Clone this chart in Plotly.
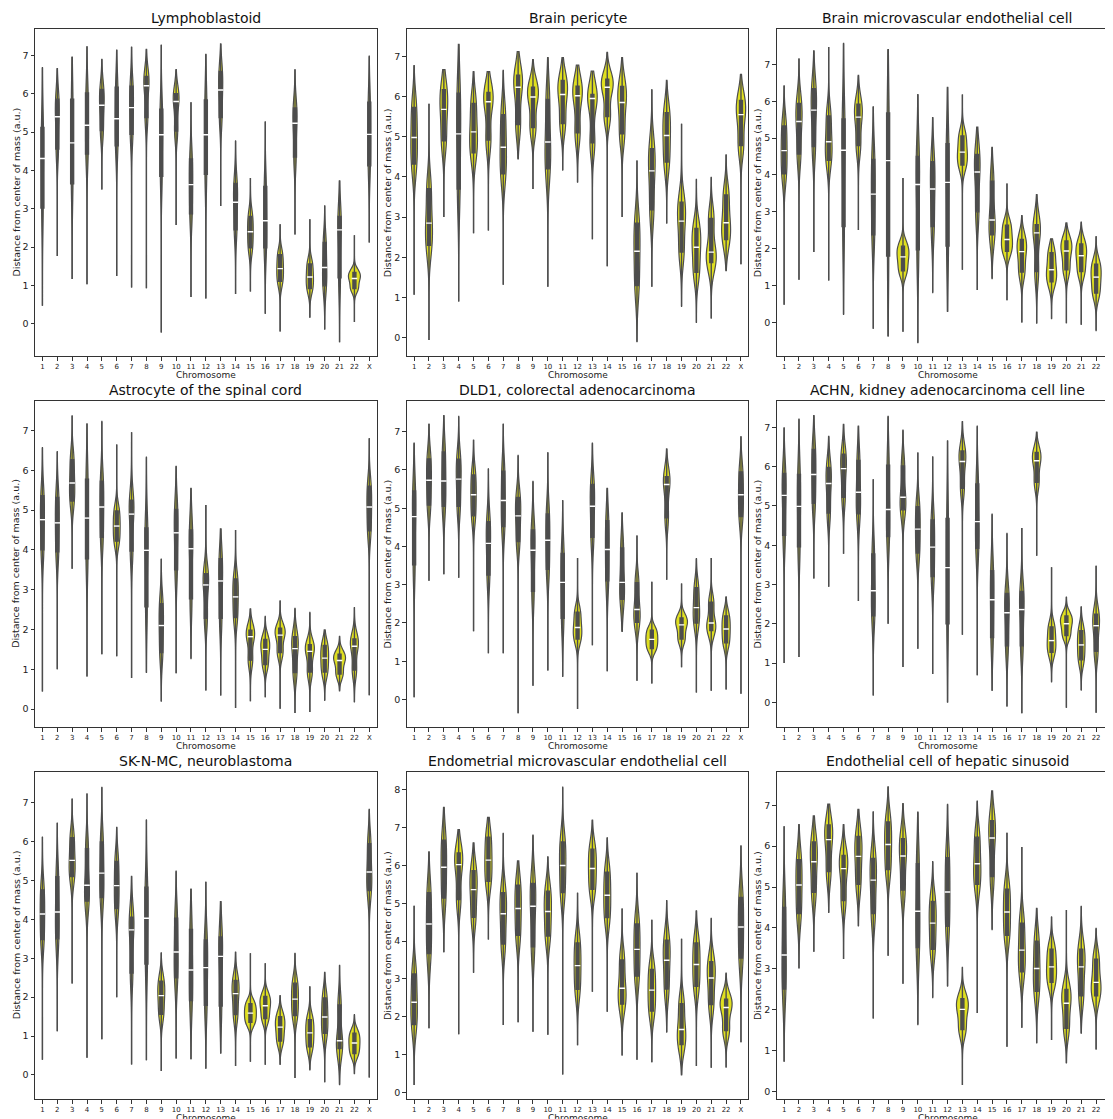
import numpy as np
import plotly.graph_objects as go

CHROMS = [str(i) for i in range(1, 23)] + ["X"]

TITLES = [
    "Lymphoblastoid", "Brain pericyte", "Brain microvascular endothelial cell",
    "Astrocyte of the spinal cord", "DLD1, colorectal adenocarcinoma", "ACHN, kidney adenocarcinoma cell line",
    "SK-N-MC, neuroblastoma", "Endometrial microvascular endothelial cell", "Endothelial cell of hepatic sinusoid",
]

# per chromosome: (lower whisker, q1, median, q3, upper whisker)
LYMPHOBLASTOID = [
    (0.47, 3.02, 4.31, 5.12, 6.68), (1.77, 4.56, 5.40, 5.86, 6.66), (1.17, 3.65, 4.72, 5.86, 6.96),
    (1.03, 4.43, 5.18, 6.02, 7.23), (3.50, 5.04, 5.70, 6.11, 6.90), (1.25, 4.64, 5.35, 6.17, 7.14),
    (0.95, 4.94, 5.64, 6.20, 7.22), (0.93, 5.38, 6.21, 6.45, 7.16), (-0.23, 3.85, 4.93, 5.60, 7.27),
    (2.58, 5.03, 5.80, 6.00, 6.63), (0.70, 2.87, 3.63, 4.30, 5.77), (0.66, 3.90, 4.93, 5.84, 7.03),
    (3.07, 5.38, 6.10, 6.58, 7.30), (0.78, 2.45, 3.17, 3.66, 4.77), (0.84, 1.98, 2.40, 2.80, 3.80),
    (0.27, 1.98, 2.69, 3.58, 5.27), (-0.20, 1.11, 1.44, 1.80, 2.59), (2.33, 4.35, 5.23, 5.63, 6.63),
    (0.17, 0.92, 1.22, 1.56, 2.73), (-0.14, 0.99, 1.47, 2.12, 3.08), (-0.48, 1.20, 2.45, 2.80, 3.73),
    (0.05, 0.92, 1.18, 1.34, 2.31), (2.12, 4.12, 4.94, 5.78, 6.98),
]
BRAIN_PERICYTE = [
    (1.07, 4.32, 4.98, 5.73, 6.77), (-0.06, 2.30, 2.85, 3.71, 5.82), (3.00, 4.90, 5.68, 6.17, 6.67),
    (0.90, 3.70, 5.07, 6.08, 7.30), (2.60, 4.60, 5.12, 5.83, 6.62), (2.67, 4.92, 5.87, 6.10, 6.62),
    (1.32, 4.08, 4.74, 5.55, 6.65), (4.45, 5.30, 6.23, 6.53, 7.12), (3.70, 5.23, 5.99, 6.23, 6.92),
    (1.27, 4.20, 4.87, 5.93, 6.97), (4.17, 5.33, 6.05, 6.40, 6.97), (3.87, 5.10, 6.02, 6.26, 6.78),
    (2.45, 4.85, 5.95, 6.05, 6.63), (1.78, 5.50, 6.23, 6.43, 7.10), (3.00, 5.07, 5.85, 6.25, 6.97),
    (-0.10, 1.30, 2.15, 2.85, 4.40), (1.27, 3.18, 4.15, 4.70, 6.17), (2.84, 4.37, 5.03, 5.60, 6.40),
    (0.78, 2.13, 2.90, 3.37, 5.32), (0.38, 1.63, 2.25, 2.72, 3.94), (0.48, 1.87, 2.13, 2.97, 3.99),
    (1.67, 2.44, 2.86, 3.55, 4.55), (1.83, 4.78, 5.55, 5.90, 6.55),
]
BRAIN_MICROVASCULAR = [
    (0.48, 4.03, 4.66, 5.33, 6.42), (1.16, 4.57, 5.45, 5.94, 7.15), (1.91, 4.77, 5.76, 6.34, 7.37),
    (1.14, 4.40, 4.90, 5.60, 7.47), (0.22, 2.60, 4.67, 5.52, 7.57), (2.51, 4.80, 5.57, 5.92, 6.70),
    (-0.17, 2.38, 3.48, 4.42, 5.85), (-0.37, 1.80, 4.39, 5.68, 7.40), (-0.25, 1.40, 1.78, 2.07, 3.92),
    (-0.55, 1.97, 3.74, 4.50, 6.18), (0.81, 2.60, 3.62, 4.36, 5.56), (0.30, 2.07, 3.80, 4.85, 6.38),
    (1.43, 4.27, 4.62, 5.06, 6.18), (0.88, 3.00, 4.08, 4.56, 5.30), (1.19, 2.38, 2.78, 3.83, 4.75),
    (0.60, 1.93, 2.25, 2.64, 3.77), (0.00, 1.37, 1.92, 2.25, 2.90), (-0.02, 1.38, 2.43, 2.65, 3.47),
    (0.10, 1.10, 1.43, 1.89, 2.27), (-0.02, 1.43, 1.94, 2.21, 2.70), (-0.06, 1.38, 1.81, 2.13, 2.72),
    (-0.22, 0.80, 1.23, 1.58, 2.33), (-0.20, 4.32, 4.85, 5.52, 6.65),
]
ASTROCYTE = [
    (0.44, 4.00, 4.76, 5.36, 6.57), (1.00, 3.95, 4.68, 5.32, 6.47), (3.53, 5.23, 5.68, 6.27, 7.37),
    (0.82, 3.78, 4.80, 5.78, 7.17), (1.38, 4.32, 5.08, 5.73, 7.23), (1.33, 4.22, 4.60, 4.98, 6.65),
    (0.78, 3.97, 4.90, 5.25, 6.96), (0.92, 2.57, 3.99, 4.55, 6.33), (0.20, 1.42, 2.10, 2.65, 3.77),
    (0.90, 3.50, 4.43, 5.02, 6.10), (1.27, 2.77, 4.03, 4.50, 5.55), (0.47, 2.28, 3.12, 3.40, 5.13),
    (0.34, 2.28, 3.22, 3.78, 4.53), (0.03, 2.30, 2.82, 3.27, 4.50), (0.20, 1.23, 1.82, 1.98, 2.52),
    (0.30, 1.12, 1.50, 1.75, 2.33), (0.01, 1.42, 1.86, 2.03, 2.72), (-0.10, 0.92, 1.52, 1.82, 2.53),
    (-0.07, 0.93, 1.45, 1.62, 2.43), (0.22, 0.93, 1.28, 1.60, 1.99), (0.46, 0.88, 1.22, 1.38, 1.83),
    (0.18, 0.98, 1.58, 1.76, 2.55), (0.35, 4.48, 5.08, 5.60, 6.80),
]
DLD1 = [
    (0.06, 3.52, 4.78, 5.45, 6.70), (3.10, 5.08, 5.73, 6.29, 7.20), (3.27, 5.05, 5.71, 6.47, 7.42),
    (3.18, 5.05, 5.76, 6.28, 7.40), (1.78, 4.80, 5.35, 5.87, 6.78), (1.21, 3.25, 4.08, 4.65, 6.03),
    (1.21, 4.52, 5.20, 5.97, 7.20), (-0.36, 4.13, 4.80, 5.28, 6.38), (0.36, 2.83, 3.90, 4.43, 5.70),
    (0.76, 3.40, 4.16, 4.85, 6.45), (0.60, 2.12, 3.06, 3.82, 5.20), (-0.25, 1.58, 1.88, 2.28, 3.70),
    (1.42, 4.24, 5.05, 5.62, 6.70), (0.74, 3.10, 3.92, 4.67, 5.52), (1.78, 2.62, 3.06, 3.96, 4.88),
    (0.49, 2.02, 2.35, 3.05, 4.28), (0.42, 1.33, 1.57, 1.81, 3.08), (3.13, 4.75, 5.62, 5.82, 6.55),
    (0.84, 1.58, 1.95, 2.13, 3.03), (0.18, 2.00, 2.40, 2.92, 3.68), (0.23, 1.80, 2.00, 2.54, 3.70),
    (0.26, 1.48, 1.84, 2.18, 2.68), (0.15, 4.78, 5.35, 5.95, 6.87),
]
ACHN = [
    (1.00, 4.25, 5.27, 5.83, 6.99), (1.15, 3.96, 4.99, 5.80, 7.21), (3.15, 5.07, 5.80, 6.44, 7.30),
    (2.94, 4.82, 5.57, 5.98, 6.77), (3.78, 5.22, 5.95, 6.32, 7.08), (2.58, 4.80, 5.35, 6.16, 7.03),
    (0.17, 2.20, 2.84, 3.78, 5.68), (2.00, 4.22, 4.91, 6.04, 7.28), (0.90, 4.90, 5.22, 6.02, 6.93),
    (1.36, 3.80, 4.41, 4.98, 6.36), (0.72, 3.20, 3.95, 4.64, 6.25), (0.00, 2.00, 3.43, 4.68, 6.66),
    (1.72, 5.45, 6.13, 6.40, 7.15), (0.69, 3.92, 4.60, 5.56, 7.03), (0.30, 1.65, 2.61, 3.35, 4.79),
    (-0.10, 1.44, 2.28, 2.77, 4.30), (-0.28, 1.44, 2.36, 2.82, 4.44), (3.73, 5.60, 6.15, 6.36, 6.88),
    (0.52, 1.27, 1.57, 1.92, 3.44), (-0.14, 1.70, 2.00, 2.20, 2.68), (0.31, 1.08, 1.46, 1.82, 2.43),
    (-0.27, 1.30, 1.95, 2.24, 3.47), (0.70, 4.90, 5.63, 6.05, 6.89),
]
SK_N_MC = [
    (0.39, 3.48, 4.14, 4.76, 6.12), (1.12, 3.50, 4.19, 5.10, 6.48), (2.35, 5.10, 5.52, 6.10, 7.10),
    (0.44, 4.47, 4.88, 5.82, 7.23), (0.92, 4.56, 5.19, 5.99, 7.40), (2.00, 4.28, 4.87, 5.49, 6.37),
    (0.27, 2.62, 3.73, 4.06, 5.11), (0.38, 2.85, 4.03, 4.83, 6.56), (0.10, 1.56, 2.04, 2.41, 3.14),
    (0.42, 2.50, 3.16, 4.03, 5.24), (0.41, 1.91, 2.70, 3.74, 4.78), (0.17, 1.79, 2.76, 3.47, 4.96),
    (0.56, 1.77, 3.05, 3.55, 4.46), (0.23, 1.55, 2.09, 2.43, 3.16), (0.34, 1.35, 1.59, 1.83, 3.13),
    (0.26, 1.45, 1.78, 2.02, 2.87), (0.27, 0.87, 1.23, 1.50, 2.04), (-0.08, 1.53, 1.95, 2.36, 3.13),
    (0.13, 0.72, 1.08, 1.42, 2.27), (-0.19, 1.07, 1.49, 1.98, 2.64), (-0.25, 0.68, 0.88, 1.80, 2.82),
    (0.03, 0.55, 0.82, 1.07, 1.55), (-0.07, 4.74, 5.22, 5.95, 6.83),
]
ENDOMETRIAL = [
    (0.19, 1.79, 2.38, 3.13, 4.93), (1.70, 3.67, 4.45, 5.28, 6.36), (3.71, 5.14, 5.95, 6.67, 7.54),
    (1.53, 5.10, 6.02, 6.33, 6.95), (3.17, 4.63, 5.36, 5.86, 6.60), (4.04, 5.58, 6.14, 6.75, 7.27),
    (1.78, 3.92, 4.72, 5.28, 6.85), (1.85, 4.15, 4.86, 5.48, 6.12), (1.60, 3.85, 4.92, 5.52, 6.80),
    (1.52, 4.13, 4.78, 5.32, 6.23), (0.47, 5.28, 6.00, 6.62, 8.07), (1.24, 2.72, 3.35, 3.95, 5.27),
    (2.66, 5.37, 5.92, 6.43, 7.20), (2.13, 4.62, 5.21, 5.82, 6.73), (0.97, 2.33, 2.75, 3.50, 4.86),
    (0.86, 3.07, 3.78, 4.45, 5.80), (0.79, 2.15, 2.70, 3.25, 4.56), (1.59, 2.73, 3.49, 4.02, 5.07),
    (0.46, 1.26, 1.66, 2.34, 4.06), (0.69, 2.80, 3.38, 3.95, 4.80), (0.65, 2.32, 3.02, 3.45, 4.60),
    (0.66, 1.63, 2.24, 2.46, 3.15), (1.32, 3.55, 4.37, 5.15, 6.52),
]
HEPATIC_SINUSOID = [
    (0.74, 2.51, 3.34, 4.50, 6.48), (3.02, 4.35, 5.05, 5.67, 6.53), (3.42, 4.87, 5.62, 6.10, 6.74),
    (4.38, 5.38, 6.16, 6.52, 7.03), (3.24, 4.67, 5.45, 5.77, 6.53), (4.05, 5.07, 5.75, 6.24, 6.90),
    (1.79, 4.35, 5.17, 5.70, 6.84), (3.32, 5.43, 6.04, 6.59, 7.45), (2.64, 4.93, 5.76, 6.18, 7.04),
    (1.64, 3.52, 4.41, 5.57, 6.83), (2.30, 3.48, 4.12, 4.65, 5.62), (2.58, 4.04, 4.88, 5.72, 7.02),
    (0.16, 1.52, 2.01, 2.27, 3.04), (1.92, 5.07, 5.57, 6.22, 7.10), (3.96, 5.26, 6.20, 6.62, 7.35),
    (1.10, 3.82, 4.39, 4.95, 6.32), (1.57, 2.93, 3.46, 4.12, 5.98), (1.19, 2.45, 3.01, 3.68, 4.48),
    (1.26, 2.67, 3.05, 3.48, 4.27), (0.70, 1.55, 2.16, 2.50, 4.44), (1.43, 2.34, 3.05, 3.48, 4.53),
    (1.03, 2.34, 2.67, 3.24, 3.99), (3.68, 4.97, 5.50, 6.20, 7.02),
]

PANELS = [LYMPHOBLASTOID, BRAIN_PERICYTE, BRAIN_MICROVASCULAR, ASTROCYTE, DLD1, ACHN,
          SK_N_MC, ENDOMETRIAL, HEPATIC_SINUSOID]
Y_RANGES = [(-0.84, 7.69), (-0.455, 7.68), (-0.91, 7.96), (-0.45, 7.75), (-0.72, 7.81),
            (-0.63, 7.68), (-0.62, 7.80), (-0.18, 8.48), (-0.18, 7.82)]

# ---- styling / geometry ----
W, H = 1105, 1111
YELLOW = "#dfdf20"
GRAY = "#4d4d4d"
FONT = "DejaVu Sans"
VIOLIN_WIDTH = 0.8
COLS = [(27.0, 368.7), (398.7, 740.4), (768.7, 1110.4)]  # full (uncut) axes extents in px
ROWS = [(21.0, 348.0), (392.7, 719.0), (763.7, 1091.0)]


def kde_stats(vals, lo, hi):
    """Silverman bandwidth and peak density (same rule plotly uses), for area-scaled widths."""
    v = np.asarray(vals, dtype=float)
    n = len(v)
    p25, p75 = np.percentile(v, [25, 75])
    bw = 1.059 * min(v.std(ddof=1), (p75 - p25) / 1.349) * n ** -0.2
    t = np.linspace(lo, hi, 600)
    dens = np.exp(-0.5 * ((t[:, None] - v[None, :]) / bw) ** 2).sum(axis=1) / (n * bw * np.sqrt(2 * np.pi))
    return bw, dens.max()


fig = go.Figure()
annotations = []

for k, (panel, title, yr) in enumerate(zip(PANELS, TITLES, Y_RANGES)):
    r, c = divmod(k, 3)
    ax = "" if k == 0 else str(k + 1)
    xref, yref = "x" + ax, "y" + ax
    lo = [p[0] for p in panel]
    q1 = [p[1] for p in panel]
    med = [p[2] for p in panel]
    q3 = [p[3] for p in panel]
    hi = [p[4] for p in panel]

    stats = [kde_stats([q1[i], med[i], q3[i]], lo[i], hi[i]) for i in range(len(CHROMS))]
    peak_max = max(s[1] for s in stats)

    for i, ch in enumerate(CHROMS):
        bw, peak = stats[i]
        fig.add_trace(go.Violin(
            x=[ch] * 3, y=[q1[i], med[i], q3[i]], xaxis=xref, yaxis=yref,
            spanmode="manual", span=[lo[i], hi[i]], bandwidth=bw,
            width=VIOLIN_WIDTH * peak / peak_max, scalemode="width", scalegroup=f"v{k}_{i}",
            fillcolor=YELLOW, line=dict(color=GRAY, width=1.2),
            points=False, box_visible=False, meanline_visible=False,
            showlegend=False, hoverinfo="skip",
        ))
    fig.add_trace(go.Box(
        x=CHROMS, q1=q1, median=med, q3=q3, lowerfence=lo, upperfence=hi,
        xaxis=xref, yaxis=yref, width=0.2, whiskerwidth=0, boxpoints=False,
        fillcolor=GRAY, line=dict(color=GRAY, width=1.4), showlegend=False, hoverinfo="skip",
    ))
    fig.add_trace(go.Scatter(
        x=CHROMS, y=med, xaxis=xref, yaxis=yref, mode="markers",
        marker=dict(symbol="line-ew", size=4, line=dict(color="white", width=1.4)),
        showlegend=False, hoverinfo="skip",
    ))

    x0, x1 = COLS[c]
    y0, y1 = ROWS[r]
    cut = x1 > W
    xr1 = 22.5 - (x1 - W) / ((x1 - x0) / 23.0) if cut else 22.5
    dom_x = [x0 / W, min(x1, W) / W]
    dom_y = [1 - y1 / H, 1 - y0 / H]
    fig.layout["xaxis" + ax] = dict(
        domain=dom_x, anchor=yref, type="category", categoryorder="array", categoryarray=CHROMS,
        range=[-0.5, xr1], showgrid=False, zeroline=False, showline=True, mirror=True,
        linecolor="#333", linewidth=1, ticks="outside", ticklen=3.5, tickwidth=0.8, tickcolor="#333",
        tickfont=dict(family=FONT, size=7, color="#222"),
    )
    fig.layout["yaxis" + ax] = dict(
        domain=dom_y, anchor=xref, range=list(yr), dtick=1, showgrid=False, zeroline=False,
        showline=True, mirror=(not cut), linecolor="#333", linewidth=1, ticks="outside",
        ticklen=3.5, tickwidth=0.8, tickcolor="#333",
        tickfont=dict(family=FONT, size=9.5, color="#222"),
    )
    cx = (x0 + x1) / 2 / W
    annotations.append(dict(text=title, x=cx, y=1 - y0 / H, xref="paper", yref="paper",
                            xanchor="center", yanchor="bottom", yshift=1, showarrow=False,
                            font=dict(family=FONT, size=14, color="#111")))
    annotations.append(dict(text="Chromosome", x=cx, y=1 - (y1 + 18.5) / H, xref="paper", yref="paper",
                            xanchor="center", yanchor="middle", showarrow=False,
                            font=dict(family=FONT, size=9, color="#222")))
    annotations.append(dict(text="Distance from center of mass (a.u.)", x=(x0 - 19) / W,
                            y=1 - (y0 + y1) / 2 / H, xref="paper", yref="paper", textangle=-90,
                            xanchor="center", yanchor="middle", showarrow=False,
                            font=dict(family=FONT, size=9.5, color="#222")))

fig.update_layout(
    width=W, height=H, margin=dict(l=0, r=0, t=0, b=0),
    paper_bgcolor="white", plot_bgcolor="white", annotations=annotations,
    violinmode="overlay", boxmode="overlay", showlegend=False,
)

fig.write_html("out.html")
